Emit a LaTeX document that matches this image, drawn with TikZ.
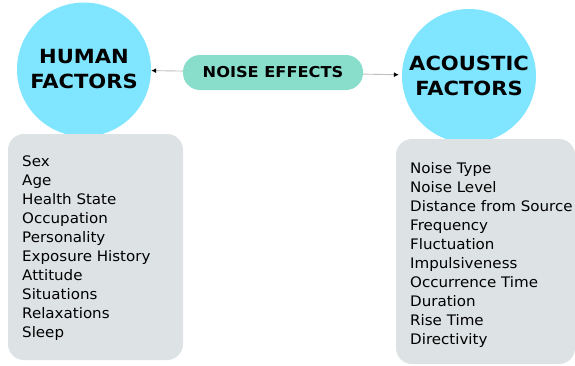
\documentclass[tikz,border=0pt]{standalone}
\usepackage{fontspec}
\setmainfont[FakeStretch=1.04]{DejaVu Sans}
\newfontfamily\headfont[FakeStretch=1.08]{DejaVu Sans}
\usepackage{xcolor}
\usetikzlibrary{positioning,arrows.meta}

\definecolor{factorblue}{HTML}{80E5FF}
\definecolor{effectgreen}{HTML}{88DECB}
\definecolor{listgray}{HTML}{DDE2E4}

\begin{document}
\begin{tikzpicture}[y=-1pt,x=1pt,
	factor/.style={circle, fill=factorblue, minimum size=134pt, inner sep=0pt, align=center,
		font=\headfont\fontsize{19.5}{25}\selectfont\bfseries},
	effect/.style={rectangle, rounded corners=17pt, fill=effectgreen, minimum width=180pt,
		minimum height=35pt, font=\headfont\fontsize{15}{18}\selectfont\bfseries},
	listbox/.style={fill=listgray, rounded corners=16pt},
	listtext/.style={anchor=north west, inner sep=0pt, align=left,
		font=\fontsize{14.5}{19}\selectfont},
	link/.style={draw=black!25, line width=0.9pt, -{Latex[length=5pt,width=5pt,black]}}]
	\useasboundingbox (0,0) rectangle (575,365);

	% the two factor groups
	\node[factor] (human) at (84,69.5) {HUMAN\\FACTORS};
	\node[factor] (acoustic) at (469,76) {ACOUSTIC\\FACTORS};

	% centre label
	\node[effect] (effects) at (273,72.5) {NOISE EFFECTS};

	\draw[link] (effects) -- (human);
	\draw[link, shorten >=3pt] (effects) -- (acoustic);

	% lists
	\fill[listbox] (8,134) rectangle (183,360);
	\node[listtext] (humanlist) at (22,156) {Sex\\Age\\Health State\\Occupation\\Personality\\Exposure History\\Attitude\\Situations\\Relaxations\\Sleep};

	\fill[listbox] (396,139) rectangle (575,364);
	\node[listtext] (acousticlist) at (410,162) {Noise Type\\Noise Level\\Distance from Source\\Frequency\\Fluctuation\\Impulsiveness\\Occurrence Time\\Duration\\Rise Time\\Directivity};
\end{tikzpicture}
\end{document}
